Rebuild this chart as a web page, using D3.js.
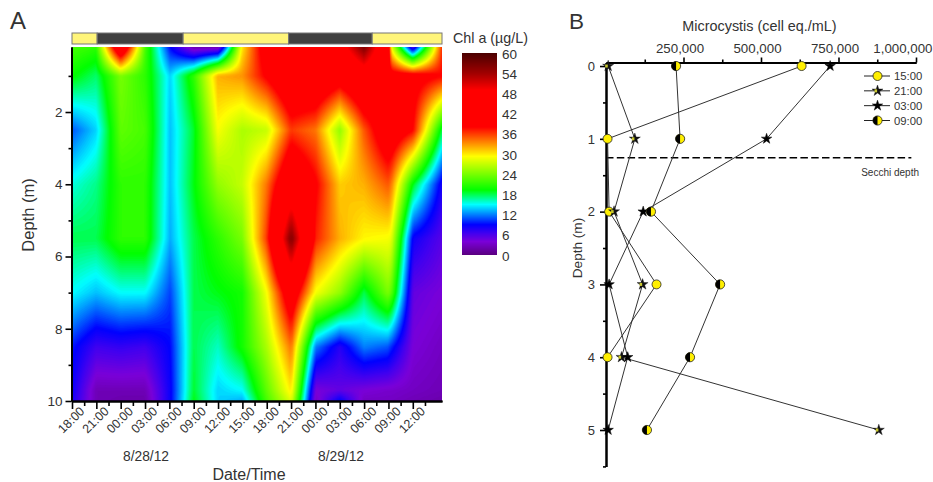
<!DOCTYPE html>
<html>
<head>
<meta charset="utf-8">
<script src="https://cdn.jsdelivr.net/npm/d3@7"></script>
<style>
	html, body { margin: 0; background: #fff; }
	svg { display: block; }
	text { font-family: "Liberation Sans", Arial, sans-serif; fill: #333; }
</style>
</head>
<body>
<div id="chart"></div>
<script>
// panel A: sampling times (hours after 18:00 on the first evening) and depths (m)
const sampleHours = [0, 3, 6, 9, 12.1, 15, 18, 21, 24, 27, 30, 33, 36, 38.9, 39.3, 42, 45.6];
const sampleDepths = [0.2, 1, 2.5, 4, 5.5, 7, 8.5, 9.7, 10];
// Chl a (ug/L), one row per depth
const chl02 = [22, 21, 45, 22, 9, 2, 2, 30, 41, 44, 46, 46, 56, 42, 29, 5, 36];
const chl10 = [19.5, 17.5, 24, 21, 14, 21, 32, 33, 38.5, 44, 44, 41, 45, 41, 40, 40, 38];
const chl25 = [11, 14, 23, 22, 13.5, 18.5, 29, 26, 27, 36, 34, 25, 35, 42, 42, 38, 18];
const chl40 = [15.5, 17, 21, 21, 13.5, 19, 25, 27, 34, 44, 38.5, 31, 32, 35, 34, 19, 8];
const chl55 = [18, 18, 21, 21, 13, 18, 21, 24, 36, 56, 37, 32, 29.5, 29, 28.5, 8.5, 5.5];
const chl70 = [15, 13.5, 15, 15, 10.5, 18, 19, 20, 29, 42, 29, 25, 18, 24, 23, 5, 4];
const chl85 = [9.5, 6.5, 7, 6.5, 9, 18, 16, 20, 26, 34, 12, 7.5, 12, 11, 10, 4, 3];
const chl97 = [8.5, 2.5, 2.5, 2.5, 8.5, 18.5, 14, 15, 23, 30, 4, 5, 4, 3.5, 3.5, 3, 2.5];
const chl100 = [8, 2.5, 2, 2, 8.5, 19, 14, 13, 22, 28, 3, 9, 3, 3, 3, 2.5, 2];
const chlRows = [chl02, chl10, chl25, chl40, chl55, chl70, chl85, chl97, chl100];

const colorValues = [0, 4, 6.5, 9, 15, 19.3, 29.3, 38, 49, 54, 60];
const colorStops = ["#5a007f", "#7a00d8", "#4000f0", "#0000ff", "#00ffff", "#00ff00", "#ffff00", "#ff0000", "#ff0000", "#a00000", "#4a0000"];
const colorTicks = [0, 6, 12, 18, 24, 30, 36, 42, 48, 54, 60];

const timeTicks = ["18:00", "21:00", "00:00", "03:00", "06:00", "09:00", "12:00", "15:00", "18:00", "21:00", "00:00", "03:00", "06:00", "09:00", "12:00"];
// light/dark bar above the plot, hours
const dayStarts = [0, 3.1, 13.7, 26.7, 37];
const dayEnds = [3.1, 13.7, 26.7, 37, 45.6];
const dayDark = [false, true, false, true, false];

// panel B
const cellDepths = [0, 1, 2, 3, 4, 5];
const cells1500 = [631000, 5000, 10000, 163000, 5000, null];
const cells2100 = [7000, 93000, 26000, 118000, 50000, 880000];
const cells0300 = [723000, 518000, 120000, 10000, 70000, 7000];
const cells0900 = [226000, 239000, 145000, 368000, 271000, 132000];
const seriesNames = ["15:00", "21:00", "03:00", "09:00"];
const seriesValues = [cells1500, cells2100, cells0300, cells0900];
const secchiDepth = 1.26;

const width = 933;
const height = 482;
const svg = d3.select("#chart").append("svg").attr("width", width).attr("height", height);

function addText(x, y, str, size, anchor) {
	return svg.append("text").attr("x", x).attr("y", y).attr("font-size", size)
		.attr("text-anchor", anchor || "start").text(str);
}

function styleAxis(g, labelSize) {
	g.select(".domain").attr("stroke", "#000").attr("stroke-width", 2);
	g.selectAll(".tick line").attr("stroke", "#000").attr("stroke-width", 1.6);
	g.selectAll("text").attr("font-size", labelSize).style("fill", "#333");
}

// ---------- panel A ----------
const x = d3.scaleLinear().domain([0, 45.6]).range([72, 442]);
const y = d3.scaleLinear().domain([0.2, 10]).range([47, 401]);
const color = d3.scaleLinear().domain(colorValues).range(colorStops).clamp(true);

// bilinear lookup in the sampled table, for the contour grid
const hourIndex = d3.scaleLinear().domain(sampleHours).range(d3.range(sampleHours.length)).clamp(true);
const depthIndex = d3.scaleLinear().domain(sampleDepths).range(d3.range(sampleDepths.length)).clamp(true);
function chlAt(h, d) {
	const fx = hourIndex(h);
	const fy = depthIndex(d);
	const i = Math.min(Math.floor(fx), sampleHours.length - 2);
	const j = Math.min(Math.floor(fy), sampleDepths.length - 2);
	const u = fx - i;
	const v = fy - j;
	return (chlRows[j][i] * (1 - u) + chlRows[j][i + 1] * u) * (1 - v)
		+ (chlRows[j + 1][i] * (1 - u) + chlRows[j + 1][i + 1] * u) * v;
}

const gridStep = 2; // px per contour cell
const gridW = Math.round((x.range()[1] - x.range()[0]) / gridStep) + 1;
const gridH = Math.round((y.range()[1] - y.range()[0]) / gridStep) + 1;
const gridValues = new Array(gridW * gridH);
for (let r = 0; r < gridH; r++) {
	for (let c = 0; c < gridW; c++) {
		gridValues[r * gridW + c] = chlAt(x.invert(x.range()[0] + c * gridStep), y.invert(y.range()[0] + r * gridStep));
	}
}
const levels = d3.range(0, 60, 0.25);
const contours = d3.contours().size([gridW, gridH]).smooth(true).thresholds(levels)(gridValues);
// the contour grid has its sample points at cell centres, hence the half cell shift
svg.append("defs").append("clipPath").attr("id", "plotClip").append("rect")
	.attr("x", x.range()[0]).attr("y", y.range()[0])
	.attr("width", x.range()[1] - x.range()[0]).attr("height", y.range()[1] - y.range()[0]);
svg.append("g")
	.attr("clip-path", "url(#plotClip)")
	.append("g")
	.attr("transform", `translate(${x.range()[0] - gridStep / 2},${y.range()[0] - gridStep / 2}) scale(${gridStep})`)
	.selectAll("path")
	.data(contours)
	.join("path")
	.attr("d", d3.geoPath())
	.attr("fill", (d) => color(d.value + 0.125))
	.attr("stroke", (d) => color(d.value + 0.125))
	.attr("stroke-width", 0.15);

// day/night bar
svg.append("g").selectAll("rect")
	.data(dayStarts)
	.join("rect")
	.attr("x", (d) => x(d))
	.attr("y", 33)
	.attr("width", (d, i) => x(dayEnds[i]) - x(d))
	.attr("height", 11)
	.attr("fill", (d, i) => (dayDark[i] ? "#404040" : "#fff57a"))
	.attr("stroke", "#777")
	.attr("stroke-width", 1);

const depthAxisA = svg.append("g").attr("transform", "translate(71.5,0)")
	.call(d3.axisLeft(y).tickValues([2, 4, 6, 8, 10]).tickSize(6).tickSizeOuter(0).tickPadding(3).tickFormat(d3.format("d")));
styleAxis(depthAxisA, 13.5);
svg.append("g").attr("transform", "translate(71.5,0)")
	.call(d3.axisLeft(y).tickValues([1, 3, 5, 7, 9]).tickSize(3).tickSizeOuter(0).tickFormat(""))
	.call((g) => styleAxis(g, 13.5));

const timeAxis = svg.append("g").attr("transform", "translate(0,401)")
	.call(d3.axisBottom(x).tickValues(timeTicks.map((d, i) => i * 3)).tickSize(8).tickSizeOuter(0).tickPadding(5).tickFormat((d, i) => timeTicks[i]));
styleAxis(timeAxis, 12.5);
timeAxis.selectAll("text")
	.attr("text-anchor", "end")
	.attr("dx", "0.1em")
	.attr("dy", "0.3em")
	.attr("transform", "rotate(-45)");
svg.append("g").attr("transform", "translate(0,401)")
	.call(d3.axisBottom(x).tickValues(timeTicks.map((d, i) => i * 3 + 1.5)).tickSize(5).tickSizeOuter(0).tickFormat(""))
	.call((g) => styleAxis(g, 12.5));

addText(10, 29, "A", 24);
addText(146, 461, "8/28/12", 13.8, "middle");
addText(341, 461, "8/29/12", 13.8, "middle");
addText(249, 479.5, "Date/Time", 16, "middle");
addText(0, 0, "Depth (m)", 16.5, "middle").attr("transform", "translate(34,215) rotate(-90)");

// colour bar, one rect per pixel row
const colorY = d3.scaleLinear().domain([0, 60]).range([255, 53]);
svg.append("g").selectAll("rect")
	.data(d3.range(53, 255))
	.join("rect")
	.attr("x", 462)
	.attr("y", (d) => d)
	.attr("width", 35)
	.attr("height", 1)
	.attr("shape-rendering", "crispEdges")
	.attr("fill", (d) => color(colorY.invert(d + 0.5)));
svg.append("g").selectAll("text")
	.data(colorTicks)
	.join("text")
	.attr("x", 502)
	.attr("y", (d) => colorY(d) + 5.5)
	.attr("font-size", 13.5)
	.text((d) => d);
addText(453, 43, "Chl a (µg/L)", 14.3);

// ---------- panel B ----------
const xCells = d3.scaleLinear().domain([0, 1000000]).range([606, 916]);
const yCells = d3.scaleLinear().domain([-0.05, 5.5]).range([62.4, 466.4]);

const cellAxisTop = svg.append("g").attr("transform", "translate(0,62.5)")
	.call(d3.axisTop(xCells).tickValues([250000, 500000, 750000, 1000000]).tickSize(5).tickSizeOuter(0).tickPadding(5).tickFormat(d3.format(",")));
styleAxis(cellAxisTop, 13.3);
// labels sit a little left of their ticks; the last one stops at the page edge
cellAxisTop.selectAll("text")
	.attr("dx", -4)
	.filter((d) => d === 1000000)
	.attr("text-anchor", "end")
	.attr("dx", 16);
svg.append("g").attr("transform", "translate(0,62.5)")
	.call(d3.axisTop(xCells).tickValues([125000, 375000, 625000, 875000]).tickSize(3).tickSizeOuter(0).tickFormat(""))
	.call((g) => styleAxis(g, 13.3));

const cellAxisLeft = svg.append("g").attr("transform", "translate(606,0)")
	.call(d3.axisLeft(yCells).tickValues(cellDepths).tickSize(6).tickSizeOuter(0).tickPadding(5).tickFormat(d3.format("d")));
styleAxis(cellAxisLeft, 13);
svg.append("g").attr("transform", "translate(606,0)")
	.call(d3.axisLeft(yCells).tickValues([0.5, 1.5, 2.5, 3.5, 4.5, 5.5]).tickSize(3).tickSizeOuter(0).tickFormat(""))
	.call((g) => styleAxis(g, 13));

svg.append("line")
	.attr("x1", xCells(0))
	.attr("x2", xCells(985000))
	.attr("y1", yCells(secchiDepth))
	.attr("y2", yCells(secchiDepth))
	.attr("stroke", "#000")
	.attr("stroke-width", 1.4)
	.attr("stroke-dasharray", "7.5 3.3");
addText(919, 176, "Secchi depth", 10, "end");

const cellLine = d3.line()
	.defined((d) => d !== null)
	.x((d) => xCells(d))
	.y((d, i) => yCells(cellDepths[i]));

const halfDisc = d3.arc().innerRadius(0).outerRadius(4.6).startAngle(Math.PI).endAngle(2 * Math.PI);
const starPath = d3.symbol().type(d3.symbolStar);

function drawMarker(g, name) {
	if (name === "15:00") {
		g.append("circle").attr("r", 4.5).attr("fill", "#ffef00").attr("stroke", "#222").attr("stroke-width", 0.8);
	} else if (name === "21:00") {
		g.append("path").attr("d", starPath.size(38)()).attr("fill", "#111").attr("stroke", "#111").attr("stroke-width", 0.4);
		g.append("rect").attr("x", -3).attr("y", -1.5).attr("width", 2.6).attr("height", 3).attr("fill", "#c9c830");
	} else if (name === "03:00") {
		g.append("path").attr("d", starPath.size(34)()).attr("fill", "#000").attr("stroke", "#000").attr("stroke-width", 0.5);
	} else {
		g.append("circle").attr("r", 4.6).attr("fill", "#ffef00").attr("stroke", "#222").attr("stroke-width", 0.8);
		g.append("path").attr("d", halfDisc()).attr("fill", "#000");
	}
}

seriesNames.forEach((name, s) => {
	svg.append("path")
		.attr("d", cellLine(seriesValues[s]))
		.attr("fill", "none")
		.attr("stroke", "#333")
		.attr("stroke-width", 1);
});
seriesNames.forEach((name, s) => {
	seriesValues[s].forEach((v, i) => {
		if (v === null) return;
		svg.append("g")
			.attr("transform", `translate(${xCells(v)},${yCells(cellDepths[i])})`)
			.call(drawMarker, name);
	});
});

addText(759.5, 31, "Microcystis (cell eq./mL)", 14.4, "middle");
addText(0, 0, "Depth (m)", 13.6, "middle").attr("transform", "translate(582,248) rotate(-90)");
addText(569, 29, "B", 22.5);

// legend
const legendY = d3.scaleLinear().domain([0, 3]).range([76, 120.5]);
seriesNames.forEach((name, s) => {
	const ly = legendY(s);
	svg.append("line").attr("x1", 864).attr("x2", 890).attr("y1", ly).attr("y2", ly).attr("stroke", "#222").attr("stroke-width", 1);
	svg.append("g").attr("transform", `translate(877.5,${ly})`).call(drawMarker, name);
	addText(894, ly + 4, name, 11.3);
});
</script>
</body>
</html>
